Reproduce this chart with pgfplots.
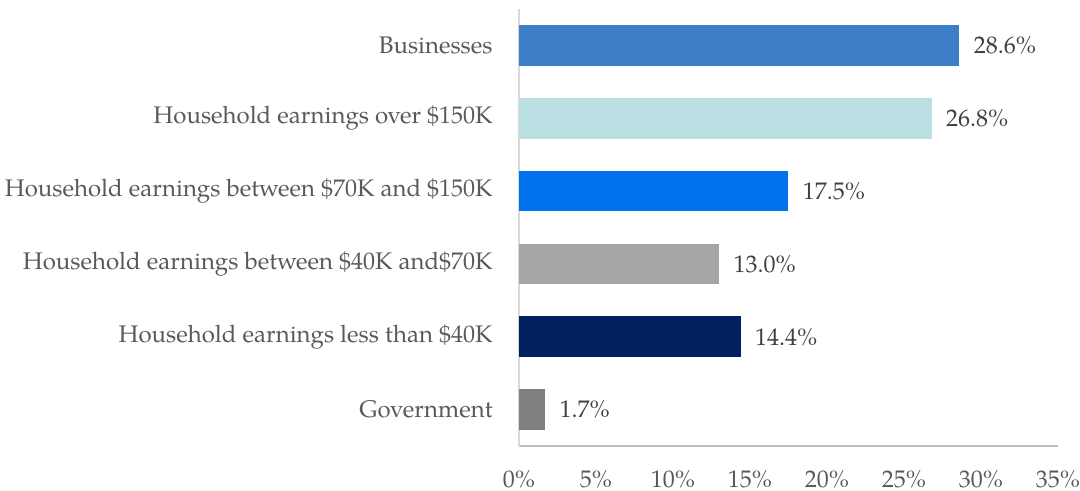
\documentclass[border=0pt]{standalone}
\usepackage{fontspec}
\setmainfont{TeX Gyre Pagella}
\usepackage{pgfplots}
\pgfplotsset{compat=1.18}
\definecolor{cBus}{HTML}{3E7EC9}
\definecolor{cOver}{HTML}{BAE0E3}
\definecolor{cMid}{HTML}{0072EE}
\definecolor{cLow}{HTML}{A6A6A6}
\definecolor{cNavy}{HTML}{002060}
\definecolor{cGov}{HTML}{808080}
\definecolor{txt}{HTML}{595959}
\definecolor{vtxt}{HTML}{404040}
\begin{document}
\fontsize{12bp}{14bp}\selectfont
\begin{tikzpicture}
\useasboundingbox (-259.5bp,-22.5bp) rectangle (280.5bp,223bp);
\begin{axis}[
  at={(0,0)}, anchor=south west,
  scale only axis, width=269.5bp, height=218.5bp,
  xmin=0, xmax=35, ymin=-0.5, ymax=5.5,
  xbar, bar shift=0pt, bar width=0.56,
  axis lines*=left,
  x axis line style={draw=black!25, line width=0.8pt},
  y axis line style={draw=black!15, line width=0.8pt},
  major tick length=0pt,
  xtick={0,5,...,35},
  xticklabel={\pgfmathprintnumber{\tick}\%},
  xticklabel style={text=txt, font=\fontsize{12bp}{14bp}\selectfont, inner sep=0pt, anchor=center, yshift=-16.5bp},
  ytick={0,1,2,3,4,5},
  yticklabels={Government, Household earnings less than \$40K, Household earnings between \$40K and\$70K, Household earnings between \$70K and \$150K, Household earnings over \$150K, Businesses},
  yticklabel style={text=txt, font=\fontsize{12bp}{14bp}\selectfont, inner sep=0pt, anchor=east, xshift=-13bp},
  /pgf/number format/assume math mode=true,
  nodes near coords={\pgfmathprintnumber[fixed,fixed zerofill,precision=1]{\pgfplotspointmeta}\%},
  every node near coord/.append style={text=vtxt, font=\fontsize{12bp}{14bp}\selectfont, anchor=west, inner sep=0pt, xshift=7bp},
  clip=false,
]
\addplot[fill=cGov, draw=none] coordinates {(1.7,0)};
\addplot[fill=cNavy, draw=none] coordinates {(14.4,1)};
\addplot[fill=cLow, draw=none] coordinates {(13.0,2)};
\addplot[fill=cMid, draw=none] coordinates {(17.5,3)};
\addplot[fill=cOver, draw=none] coordinates {(26.8,4)};
\addplot[fill=cBus, draw=none] coordinates {(28.6,5)};
\end{axis}
\end{tikzpicture}
\end{document}
